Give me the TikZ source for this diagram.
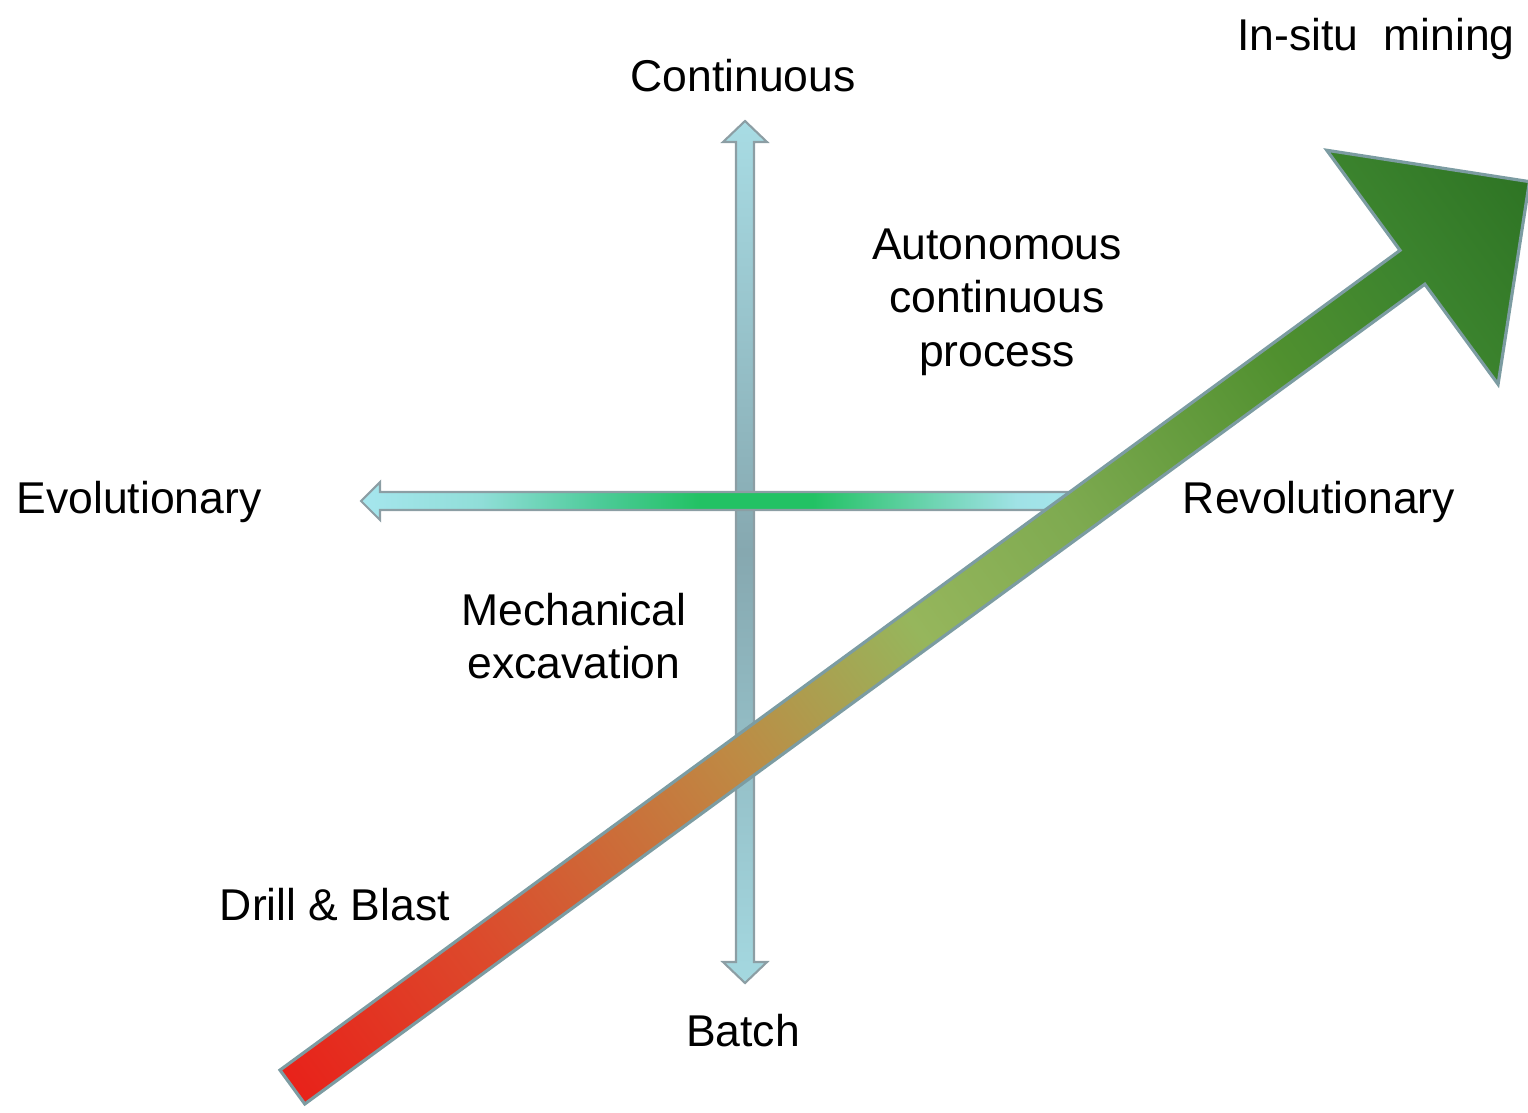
\documentclass[tikz,border=0pt]{standalone}
\usepackage{fontspec}
\setmainfont{Liberation Sans}
\definecolor{baA}{HTML}{E8221A}
\definecolor{baB}{HTML}{DC4A2C}
\definecolor{baC}{HTML}{BE8A44}
\definecolor{baD}{HTML}{96B65C}
\definecolor{baE}{HTML}{7EAA50}
\definecolor{baF}{HTML}{50902F}
\definecolor{baG}{HTML}{3C842E}
\definecolor{baH}{HTML}{2E7424}
\definecolor{hcyan}{HTML}{A6E6EE}
\definecolor{hcyanB}{HTML}{90DED8}
\definecolor{hmid}{HTML}{4CCB98}
\definecolor{hgreen}{HTML}{22C264}
\definecolor{hback}{HTML}{6CD4B0}
\definecolor{hcyanC}{HTML}{A0E2E6}
\definecolor{vtop}{HTML}{A8DCE4}
\definecolor{vmid}{HTML}{86A8B0}
\definecolor{vbot}{HTML}{A4D8E0}
\definecolor{thinedge}{HTML}{8C9EA4}
\definecolor{bigedge}{HTML}{7C9CA2}
\pgfdeclarehorizontalshading{bigarrowshade}{100bp}{color(0bp)=(baA); color(25bp)=(baA); color(32.7bp)=(baB); color(43bp)=(baC); color(50.25bp)=(baD); color(56.5bp)=(baE); color(65bp)=(baF); color(70bp)=(baG); color(75bp)=(baH); color(100bp)=(baH)}
\pgfdeclarehorizontalshading{hbarshade}{100bp}{color(0bp)=(hcyan); color(25bp)=(hcyan); color(33.2bp)=(hcyanB); color(41.4bp)=(hmid); color(48.2bp)=(hgreen); color(56bp)=(hgreen); color(64bp)=(hback); color(70bp)=(hcyanC); color(75bp)=(hcyan); color(100bp)=(hcyan)}
\begin{document}
\begin{tikzpicture}[x=0.01cm, y=-0.01cm,
  lbl/.style={font=\fontsize{12.66}{15.2}\selectfont, inner sep=0pt, text=black},
  thinarrow/.style={draw=thinedge, line width=0.6pt, line join=miter},
  bigarrow/.style={draw=bigedge, line width=0.9pt, line join=miter, shading=bigarrowshade}]
\useasboundingbox (0,0) rectangle (1528,1112);
% vertical double arrow (Continuous -- Batch)
\shade[thinarrow, top color=vtop, bottom color=vbot, middle color=vmid]
  (745,121) -- (767,142) -- (754,142) -- (754,962) -- (767,962) -- (745,983)
  -- (723,962) -- (736,962) -- (736,142) -- (723,142) -- cycle;
% horizontal arrow (Evolutionary)
\shade[thinarrow, shading=hbarshade]
  (361,501) -- (380,482) -- (380,492) -- (1090,492) -- (1090,510) -- (380,510) -- (380,520) -- cycle;
% big gradient arrow
\begin{scope}[transform canvas={shift={(292.4,1087)}, rotate=36.2}]
\shade[bigarrow]
  (0,-21) -- (1388,-21) -- (1388,-145) -- (1533,0) -- (1388,145) -- (1388,21) -- (0,21) -- cycle;
\end{scope}
% labels
\node[lbl, anchor=base] (insitu) at (1376,51) {In-situ\ \ mining};
\node[lbl, anchor=base] (cont) at (743,91) {Continuous};
\node[lbl, anchor=center, align=center] (auto) at (997,302) {Autonomous\\continuous\\process};
\node[lbl, anchor=base] (evo) at (139,513) {Evolutionary};
\node[lbl, anchor=base] (rev) at (1319,513) {Revolutionary};
\node[lbl, anchor=center, align=center] (mech) at (574,636) {Mechanical\\excavation};
\node[lbl, anchor=base] (drill) at (335,920) {Drill \& Blast};
\node[lbl, anchor=base] (batch) at (743,1046) {Batch};
\end{tikzpicture}
\end{document}
